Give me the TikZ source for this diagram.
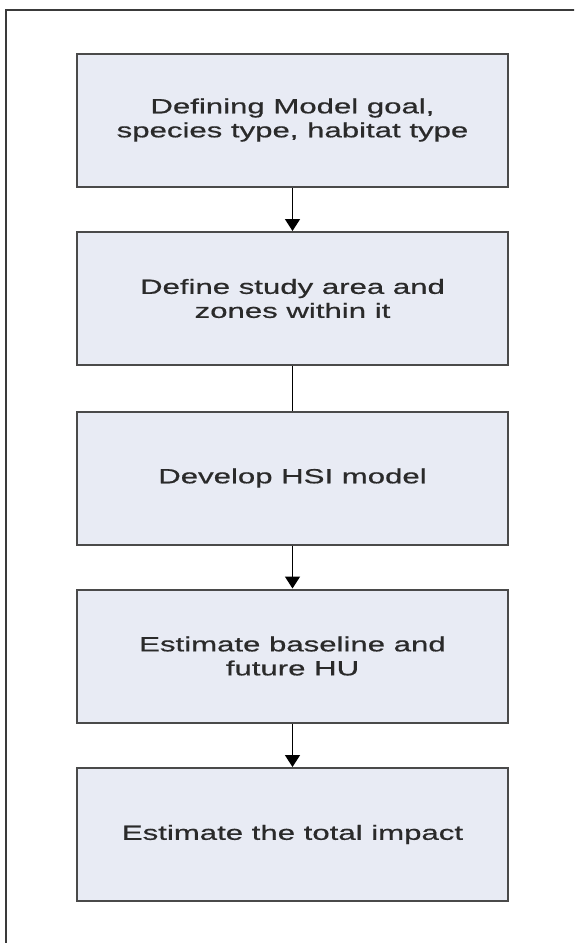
\documentclass[tikz,border=0pt]{standalone}
\usepackage{fontspec}
\newfontfamily\boxfont[FakeStretch=1.52,FakeBold=0.6]{Liberation Sans}
\usetikzlibrary{arrows.meta}
\definecolor{boxfill}{HTML}{E8EBF4}
\definecolor{boxline}{HTML}{4A4A4A}
\definecolor{txt}{HTML}{2A2A2A}
\definecolor{framec}{HTML}{3A3A3A}
\tikzset{
  stepbox/.style={draw=boxline, line width=2pt, fill=boxfill, rectangle,
    minimum width=431pt, minimum height=133pt, inner sep=0pt,
    align=center, text=txt,
    font=\boxfont\fontsize{20.5pt}{24pt}\selectfont},
  flowarrow/.style={draw=black, line width=1.5pt, -{Triangle[length=12pt,width=15pt]}},
  flowline/.style={draw=black, line width=1.5pt}
}
\begin{document}
\begin{tikzpicture}[x=1pt,y=-1pt]
\useasboundingbox (0,0) rectangle (574,943);
\clip (0,0) rectangle (574,943);
\fill[white] (0,0) rectangle (574,943);
\draw[framec, line width=2pt] (5.5,9.5) rectangle (620,990);
\node[stepbox] (b1) at (292.5,120) {Defining Model goal,\\species type, habitat type};
\node[stepbox] (b2) at (292.5,298.5) {Define study area and\\zones within it};
\node[stepbox] (b3) at (292.5,478) {Develop HSI model};
\node[stepbox] (b4) at (292.5,656) {Estimate baseline and\\future HU};
\node[stepbox] (b5) at (292.5,834.5) {Estimate the total impact};
\draw[flowarrow] (b1.south) -- (b2.north);
\draw[flowline] (b2.south) -- (b3.north);
\draw[flowarrow] (b3.south) -- (b4.north);
\draw[flowarrow] (b4.south) -- (b5.north);
\end{tikzpicture}
\end{document}
